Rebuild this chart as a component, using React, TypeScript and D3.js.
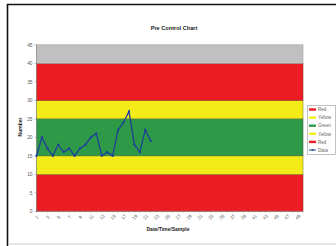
import React from "react";
import * as d3 from "d3";

const dataValues = [15, 20, 17, 15, 18, 16, 17, 15, 17, 18, 20, 21, 15, 16, 15, 22, 24, 27, 18, 16, 22, 19];
const categoryCount = 50;
const yTicks = [0, 5, 10, 15, 20, 25, 30, 35, 40, 45];
const bandNames = ["Red", "Yellow", "Green", "Yellow", "Red", "Gray"];
const bandFrom = [0, 10, 15, 25, 30, 40];
const bandTo = [10, 15, 25, 30, 40, 45];
const bandColors = ["#ec1c24", "#f3ec19", "#2e9a47", "#f3ec19", "#ec1c24", "#c0c0c0"];
const bandStrokes = ["#9a3a2a", "#8a8a2a", "#3c6a3c", "#8a8a2a", "#9a3a2a", "#a0a0a0"];
const legendNames = ["Red", "Yellow", "Green", "Yellow", "Red", "Data"];
const legendColors = ["#ec1c24", "#f3ec19", "#2e9a47", "#f3ec19", "#ec1c24", "#1f3f9a"];

export default function App() {
  const W = 336, H = 246;
  const left = 36.5, right = 303, top = 44.8, bottom = 211.3;
  const x = d3.scaleLinear().domain([1, categoryCount]).range([left, right]);
  const y = d3.scaleLinear().domain([0, 45]).range([bottom, top]);
  const line = d3.line<number>().x((_, i) => x(i + 1)).y((d) => y(d));
  const xLabels = d3.range(1, categoryCount, 2);
  const font = "Liberation Sans, Arial, sans-serif";
  return (
    <svg width={W} height={H} style={{ position: "absolute", left: 0, top: 0 }} fontFamily={font}>
      <rect x={0} y={0} width={W} height={H} fill="#fff" />
      <line x1={7.5} y1={4} x2={7.5} y2={H} stroke="#111" strokeWidth={1.6} />
      <line x1={7} y1={4.5} x2={W} y2={4.5} stroke="#111" strokeWidth={1.6} />
      <line x1={8} y1={244} x2={W} y2={244} stroke="#ccc" strokeWidth={1} />
      <text x={174} y={30} fontSize={5.6} fontWeight="bold" textAnchor="middle" fill="#222">Pre Control Chart</text>
      {bandFrom.map((b, i) => (
        <rect key={i} x={left} y={y(bandTo[i])} width={right - left} height={y(b) - y(bandTo[i])}
          fill={bandColors[i]} stroke={bandStrokes[i]} strokeWidth={0.6} />
      ))}
      <line x1={left} y1={top} x2={left} y2={bottom} stroke="#888" strokeWidth={0.6} />
      <line x1={left} y1={bottom} x2={right} y2={bottom} stroke="#888" strokeWidth={0.6} />
      {yTicks.map((t) => (
        <g key={t}>
          <line x1={left - 2} x2={left} y1={y(t)} y2={y(t)} stroke="#888" strokeWidth={0.6} />
          <text x={left - 4} y={y(t) + 1.7} fontSize={4.8} textAnchor="end" fill="#555">{t}</text>
        </g>
      ))}
      {d3.range(1, categoryCount + 1).map((c) => (
        <line key={c} x1={x(c)} x2={x(c)} y1={bottom} y2={bottom + 1.5} stroke="#999" strokeWidth={0.5} />
      ))}
      {xLabels.map((c) => (
        <text key={c} transform={`translate(${x(c) + 1.5},${bottom + 7}) rotate(-45)`} fontSize={4.6}
          textAnchor="middle" fill="#555">{c}</text>
      ))}
      <text transform={`translate(22,127) rotate(-90)`} fontSize={5} fontWeight="bold" textAnchor="middle" fill="#222">Number</text>
      <text x={168} y={231} fontSize={5} fontWeight="bold" textAnchor="middle" fill="#222">Date/Time/Sample</text>
      <path d={line(dataValues) || ""} fill="none" stroke="#1f3f9a" strokeWidth={1.3} />
      {dataValues.map((v, i) => (
        <rect key={i} x={x(i + 1) - 1} y={y(v) - 1} width={2} height={2} fill="#1f3f9a" />
      ))}
      <rect x={307.5} y={105.5} width={28} height={49} fill="#fff" stroke="#999" strokeWidth={0.6} />
      {legendNames.map((n, i) => {
        const ly = 109.5 + i * 8.1;
        return (
          <g key={i}>
            {i < 5 ? (
              <rect x={309} y={ly - 1.2} width={7} height={2.4} fill={legendColors[i]} />
            ) : (
              <g>
                <line x1={309} x2={316} y1={ly} y2={ly} stroke={legendColors[i]} strokeWidth={1} />
                <rect x={311.7} y={ly - 0.8} width={1.6} height={1.6} fill={legendColors[i]} />
              </g>
            )}
            <text x={318} y={ly + 1.7} fontSize={4.6} fill="#666">{n}</text>
          </g>
        );
      })}
    </svg>
  );
}
